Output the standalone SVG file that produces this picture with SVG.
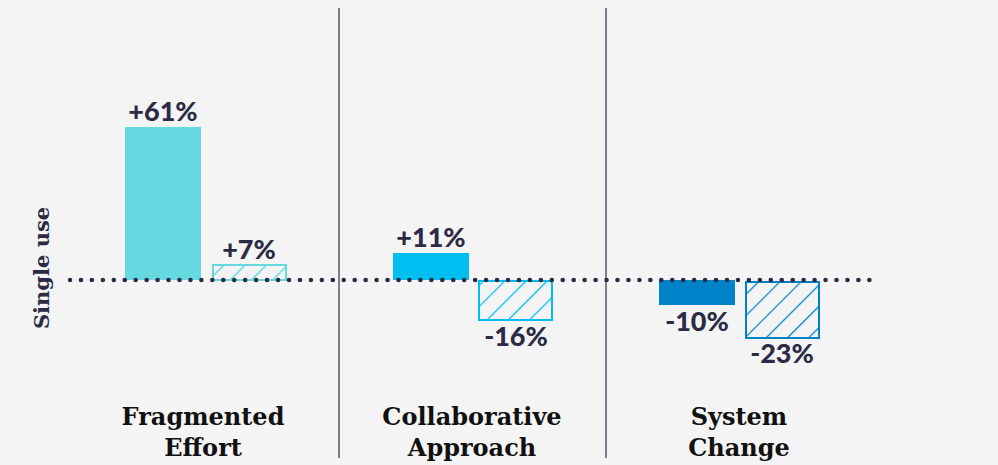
<svg xmlns="http://www.w3.org/2000/svg" width="998" height="465" viewBox="0 0 998 465">
<defs>
<style>
.val{font-family:Lato,"Open Sans","Liberation Sans",sans-serif;font-weight:900;font-size:27px;fill:#2b2b45;text-anchor:middle}
.cat{font-family:"DejaVu Serif","Liberation Serif",serif;font-weight:bold;font-size:24px;fill:#111;text-anchor:middle}
.sep{stroke:#55556a;stroke-width:1.5}
</style>
<pattern id="h1" patternUnits="userSpaceOnUse" width="15" height="15" patternTransform="rotate(45)">
<line x1="0" y1="0" x2="0" y2="15" stroke="#66d8e0" stroke-width="3"/>
</pattern>
<pattern id="h2" patternUnits="userSpaceOnUse" width="15" height="15" patternTransform="rotate(45)">
<line x1="0" y1="0" x2="0" y2="15" stroke="#00bef0" stroke-width="2.5"/>
</pattern>
<pattern id="h3" patternUnits="userSpaceOnUse" width="15" height="15" patternTransform="rotate(45)">
<line x1="0" y1="0" x2="0" y2="15" stroke="#0082c8" stroke-width="2.5"/>
</pattern>
</defs>
<rect width="998" height="465" fill="#f4f4f4"/>
<g id="separators">
<line class="sep" x1="339" y1="8" x2="339" y2="458"/>
<line class="sep" x1="606" y1="8" x2="606" y2="458"/>
</g>
<g id="fragmented">
<rect x="125" y="127" width="76" height="153" fill="#66d8e0"/>
<rect x="213" y="265" width="73" height="15" fill="url(#h1)" stroke="#66d8e0" stroke-width="2"/>
<text class="val" x="163" y="121">+61%</text>
<text class="val" x="249" y="259">+7%</text>
<text class="cat" x="203" y="425">Fragmented</text>
<text class="cat" x="203" y="456">Effort</text>
</g>
<g id="collaborative">
<rect x="393" y="253" width="76" height="27" fill="#00bef0"/>
<rect x="479" y="281" width="73" height="39" fill="url(#h2)" stroke="#00bef0" stroke-width="2"/>
<text class="val" x="431" y="247">+11%</text>
<text class="val" x="516" y="346">-16%</text>
<text class="cat" x="472" y="425">Collaborative</text>
<text class="cat" x="472" y="456">Approach</text>
</g>
<g id="system">
<rect x="659" y="280" width="76" height="25" fill="#0082c8"/>
<rect x="746" y="282" width="73" height="56" fill="url(#h3)" stroke="#0082c8" stroke-width="2"/>
<text class="val" x="697" y="331">-10%</text>
<text class="val" x="782" y="363">-23%</text>
<text class="cat" x="739" y="425">System</text>
<text class="cat" x="739" y="456">Change</text>
</g>
<g id="connectors">
<line x1="70" y1="280" x2="872" y2="280" stroke="#2b2b45" stroke-width="4.6" stroke-linecap="round" stroke-dasharray="0 10.95"/>
</g>
<text id="axis-label" transform="translate(49,268) rotate(-90)" font-family="'DejaVu Serif','Liberation Serif',serif" font-weight="bold" font-size="21" fill="#2b2b45" text-anchor="middle">Single use</text>
</svg>
